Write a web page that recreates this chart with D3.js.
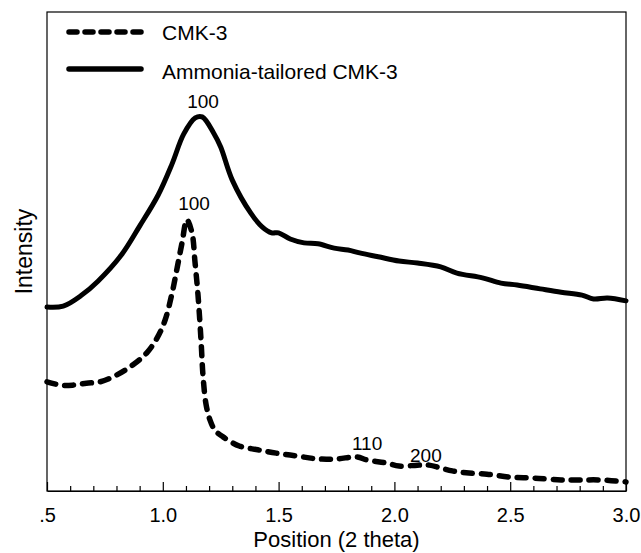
<!DOCTYPE html>
<html>
<head>
<meta charset="utf-8">
<script src="https://cdn.jsdelivr.net/npm/d3@7"></script>
<style>
  html, body { margin: 0; padding: 0; background: #fff; }
  svg { display: block; }
  text { font-family: "Liberation Sans", Arial, sans-serif; fill: #000; }
</style>
</head>
<body>
<svg id="chart" width="641" height="553"></svg>
<script>
// ---- data (2 theta, intensity in arbitrary units) ----
const seriesNames = ["CMK-3", "Ammonia-tailored CMK-3"];

const cmkX = [0.50, 0.56, 0.61, 0.67, 0.73, 0.80, 0.87, 0.93, 0.975, 1.01, 1.04, 1.06, 1.083, 1.104, 1.126, 1.139, 1.152, 1.165, 1.174, 1.187, 1.204, 1.225, 1.26, 1.33, 1.41, 1.49, 1.58, 1.67, 1.75, 1.84, 1.88, 1.97, 2.02, 2.10, 2.15, 2.20, 2.25, 2.31, 2.40, 2.50, 2.60, 2.72, 2.80, 2.89, 3.00];
const cmkY = [22.8, 22.1, 22.1, 22.5, 22.8, 24.2, 26.3, 28.8, 31.9, 35.7, 41.3, 46.1, 51.8, 56.6, 53.9, 47.8, 40.9, 31.5, 23.8, 18.0, 14.8, 12.7, 11.3, 9.4, 8.6, 7.9, 7.3, 6.7, 6.7, 7.1, 6.5, 5.8, 5.2, 5.4, 5.4, 4.8, 4.2, 3.8, 3.5, 2.9, 2.7, 2.3, 2.3, 2.3, 1.9];

const ammX = [0.50, 0.57, 0.65, 0.72, 0.82, 0.90, 0.98, 1.04, 1.09, 1.14, 1.17, 1.22, 1.25, 1.30, 1.38, 1.43, 1.47, 1.50, 1.55, 1.61, 1.67, 1.74, 1.80, 1.85, 1.93, 2.02, 2.10, 2.20, 2.27, 2.38, 2.46, 2.53, 2.63, 2.72, 2.81, 2.86, 2.92, 3.00];
const ammY = [38.4, 38.6, 40.9, 43.8, 49.2, 55.3, 61.8, 68.3, 74.5, 77.9, 78.1, 74.7, 71.8, 64.9, 58.0, 55.1, 53.9, 53.9, 52.6, 51.8, 51.6, 50.7, 50.3, 49.7, 48.9, 48.0, 47.6, 46.8, 45.5, 44.5, 43.4, 43.0, 42.2, 41.5, 40.9, 40.1, 40.3, 39.7];

// peak (hkl) labels
const peakLabels = ["100", "100", "110", "200"];
const peakX = [1.174, 1.135, 1.882, 2.136];
const peakY = [80.0, 58.7, 8.6, 6.1];

// x-axis ticks
const xTickValues = [0.5, 1.0, 1.5, 2.0, 2.5, 3.0];
const xTickLabels = [".5", "1.0", "1.5", "2.0", "2.5", "3.0"];
const xMinorTicks = d3.range(6, 30).map(d => d / 10).filter(v => Math.abs(v * 2 - Math.round(v * 2)) > 1e-6);

// ---- layout ----
const pLeft = 47, pRight = 626, pTop = 12, pBottom = 491;
const svg = d3.select("#chart");

const x = d3.scaleLinear().domain([0.5, 3.0]).range([pLeft, pRight]);
const y = d3.scaleLinear().domain([0, 100]).range([pBottom, pTop]);

// frame
svg.append("rect")
  .attr("x", pLeft).attr("y", pTop)
  .attr("width", pRight - pLeft).attr("height", pBottom - pTop)
  .attr("fill", "none").attr("stroke", "#000").attr("stroke-width", 1.2);

// bottom axis: inward ticks
const axisG = svg.append("g").attr("transform", `translate(0,${pBottom})`);
axisG.call(d3.axisBottom(x).tickValues(xTickValues).tickSizeInner(-9).tickSizeOuter(0)
  .tickFormat((d, i) => xTickLabels[i]));
axisG.select(".domain").attr("stroke", "#000").attr("stroke-width", 1.2);
axisG.selectAll(".tick line").attr("stroke", "#000").attr("stroke-width", 1.2);
axisG.selectAll(".tick text")
  .attr("y", 31).attr("dy", 0)
  .style("font-family", "'Liberation Sans', Arial, sans-serif")
  .style("font-size", "20px").attr("fill", "#000");

const minorG = svg.append("g").attr("transform", `translate(0,${pBottom})`);
minorG.call(d3.axisBottom(x).tickValues(xMinorTicks).tickSizeInner(-5).tickSizeOuter(0).tickFormat(""));
minorG.select(".domain").remove();
minorG.selectAll(".tick line").attr("stroke", "#000").attr("stroke-width", 1.2);

// axis titles
svg.append("text")
  .attr("x", (pLeft + pRight) / 2).attr("y", 547)
  .attr("text-anchor", "middle").style("font-size", "22px")
  .text("Position (2 theta)");
svg.append("text")
  .attr("transform", `translate(32,${(pTop + pBottom) / 2}) rotate(-90)`)
  .attr("text-anchor", "middle").style("font-size", "23px")
  .text("Intensity");

// curves
const line = d3.line().x(d => x(d[0])).y(d => y(d[1])).curve(d3.curveCatmullRom.alpha(0.5));
const cmk = cmkX.map((v, i) => [v, cmkY[i]]);
const amm = ammX.map((v, i) => [v, ammY[i]]);

svg.append("path").datum(amm)
  .attr("d", line).attr("fill", "none")
  .attr("stroke", "#000").attr("stroke-width", 5)
  .attr("stroke-linejoin", "round").attr("stroke-linecap", "round");

svg.append("path").datum(cmk)
  .attr("d", line).attr("fill", "none")
  .attr("stroke", "#000").attr("stroke-width", 5.5)
  .attr("stroke-dasharray", "9,9")
  .attr("stroke-linejoin", "round").attr("stroke-linecap", "round");

// peak labels
svg.selectAll(".peak").data(peakLabels).enter().append("text")
  .attr("class", "peak")
  .attr("x", (d, i) => x(peakX[i])).attr("y", (d, i) => y(peakY[i]))
  .attr("text-anchor", "middle").style("font-size", "19px")
  .text(d => d);

// legend
const legendY = [32, 69];
const legendTextY = [40, 79];
const legendDash = ["8,8", null];
seriesNames.forEach((name, i) => {
  const l = svg.append("line")
    .attr("x1", 69).attr("x2", 141)
    .attr("y1", legendY[i]).attr("y2", legendY[i])
    .attr("stroke", "#000").attr("stroke-width", 5.5)
    .attr("stroke-linecap", "round");
  if (legendDash[i]) l.attr("stroke-dasharray", legendDash[i]);
  svg.append("text")
    .attr("x", 162).attr("y", legendTextY[i])
    .style("font-size", "21px")
    .text(name);
});
</script>
</body>
</html>
